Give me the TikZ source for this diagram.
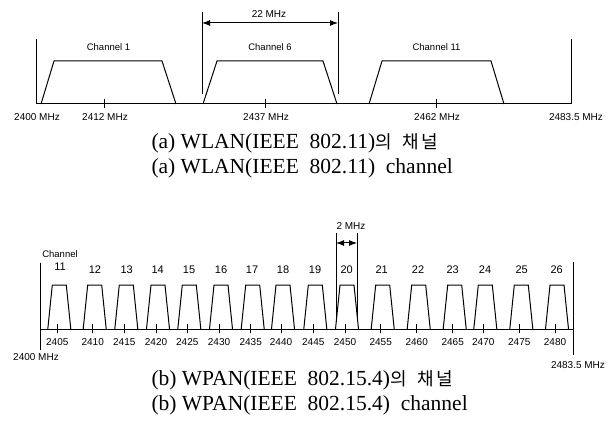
\documentclass[tikz,border=0pt]{standalone}
\usepackage{fontspec}
\setmainfont{Liberation Serif}
\setsansfont{Liberation Sans}
\newfontfamily\krfont{Noto Sans CJK KR}
\usetikzlibrary{arrows.meta, positioning, calc}

\tikzset{
  freq/.style={font=\sffamily\fontsize{10}{12}\selectfont, inner sep=0pt},
  chan/.style={font=\sffamily\fontsize{9.5}{11}\selectfont, inner sep=0pt},
  chnum/.style={font=\sffamily\fontsize{11}{13}\selectfont, inner sep=0pt},
  caption/.style={font=\fontsize{21.5}{24}\selectfont, anchor=west, inner sep=0pt},
  span/.style={{Latex[length=8pt,width=6pt]}-{Latex[length=8pt,width=6pt]}},
}

\begin{document}
\begin{tikzpicture}[x=1pt, y=-1pt, line width=1pt]
  \useasboundingbox (0,0) rectangle (612,435);

  % WLAN axis and band edges
  \draw (36,104) -- (571,104);
  \draw (36,39) -- (36,104);
  \draw (571,39) -- (571,104);
  \node[freq] (w2400) at (37,117) {2400 MHz};
  \node[freq] (w2483) at (576,117) {2483.5 MHz};
  % WLAN centre ticks
  \foreach \x/\f in {104/2412, 265/2437, 436/2462}{
    \draw (\x,99) -- (\x,108);
    \node[freq] (w\f) at (\x+1,117) {\f\ MHz};
  }
  % WLAN channels
  \foreach \a/\b/\c/\d/\n in {41/54/162/176/1, 203/217/323/337/6, 369/382/491/504/11}{
    \draw (\a,104) -- (\b,61) -- (\c,61) -- (\d,104);
    \node[chan] (wch\n) at ({(\a+\d)/2},47) {Channel \n};
  }
  % 22 MHz width
  \coordinate (wl) at (202,12);
  \coordinate (wr) at (338,12);
  \draw (wl) -- ++(0,82);
  \draw (wr) -- ++(0,82);
  \draw[span] ($(wl)+(0,11)$) -- ($(wr)+(0,11)$);
  \node[freq] (w22) at (269,14) {22 MHz};

  % WPAN axis and band edges
  \draw (40,329) -- (573,329);
  \draw (40,263) -- (40,350);
  \draw (573,262) -- (573,355);
  \node[freq] (p2400) at (36,357) {2400 MHz};
  \node[freq] (p2483) at (578,365) {2483.5 MHz};
  % WPAN channels
  \foreach \x/\f/\n in {57.3/2405/11, 92.7/2410/12, 124.3/2415/13, 156/2420/14,
      187.3/2425/15, 219/2430/16, 250.7/2435/17, 281/2440/18, 313.3/2445/19,
      345/2450/20, 380.7/2455/21, 416.7/2460/22, 452.7/2465/23, 483.3/2470/24,
      519.3/2475/25, 555/2480/26}{
    \draw (\x,324) -- (\x,333);
    \node[freq] (p\f) at (\x,341.7) {\f};
    \draw (\x+2-11.5,329) -- (\x+2-7,285) -- (\x+2+7,285) -- (\x+2+11.5,329);
  }
  \foreach \x/\n in {95/12, 126.7/13, 157.7/14, 189/15, 221/16, 252/17, 283/18,
      315/19, 346.7/20, 381.7/21, 418/22, 452.7/23, 485/24, 521.7/25, 556.7/26}{
    \node[chnum] (pch\n) at (\x,270) {\n};
  }
  \node[chnum] (pch11) at (60,267) {11};
  \node[chan] (pchan) at (60,254) {Channel};
  % 2 MHz width
  \coordinate (pl) at (336,233);
  \coordinate (pr) at (357,233);
  \draw (pl) -- ++(0,85);
  \draw (pr) -- ++(0,85);
  \draw[span] ($(pl)+(0,10)$) -- ($(pr)+(0,10)$);
  \node[freq] (p2) at (351,226) {2 MHz};

  % Captions
  \node[caption] (capa1) at (151,143)
    {(a) WLAN(IEEE\ \ 802.11){\krfont\fontsize{18}{22}\selectfont 의\hspace{0.6em}채\hspace{0.15em}널}};
  \node[caption] (capa2) at (151,168)
    {(a) WLAN(IEEE\ \ 802.11)\ \ channel};
  \node[caption] (capb1) at (151,380)
    {(b) WPAN(IEEE\ \ 802.15.4){\krfont\fontsize{18}{22}\selectfont 의\hspace{0.6em}채\hspace{0.15em}널}};
  \node[caption] (capb2) at (151,405)
    {(b) WPAN(IEEE\ \ 802.15.4)\ \ channel};
\end{tikzpicture}
\end{document}
